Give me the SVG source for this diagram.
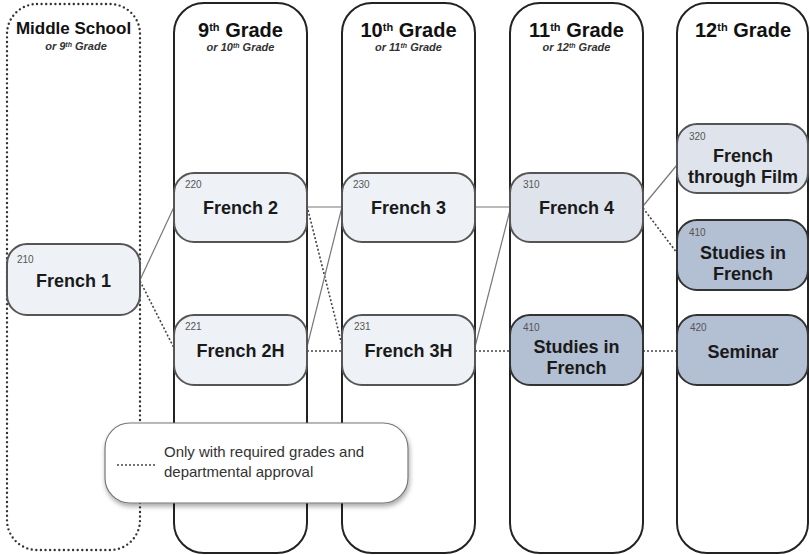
<svg xmlns="http://www.w3.org/2000/svg" width="810" height="555" viewBox="0 0 810 555">
<defs>
<filter id="sh" x="-10%" y="-20%" width="125%" height="150%">
<feGaussianBlur in="SourceAlpha" stdDeviation="2.5"/>
<feOffset dx="1" dy="3" result="b"/>
<feComponentTransfer><feFuncA type="linear" slope="0.35"/></feComponentTransfer>
<feMerge><feMergeNode/><feMergeNode in="SourceGraphic"/></feMerge>
</filter>
</defs>
<style>
text{font-family:"Liberation Sans",Arial,Helvetica,sans-serif;fill:#111}
.col{fill:#fff;stroke:#222;stroke-width:2}
.ms{fill:#fff;stroke:#333;stroke-width:2.4;stroke-dasharray:0 4.6;stroke-linecap:round}
.h{font-size:20px;font-weight:bold;text-anchor:middle}
.hm{font-size:17px;font-weight:bold;text-anchor:middle}
.sup{font-size:11px}
.sub{font-size:11px;font-weight:bold;font-style:italic;text-anchor:middle;fill:#333}
.subsup{font-size:7px}
.n1{fill:#eef2f7;stroke:#555;stroke-width:2}
.n2{fill:#dfe4ec;stroke:#555;stroke-width:2}
.n3{fill:#b3bfd3;stroke:#333;stroke-width:2}
.num{font-size:10px;fill:#555}
.lbl{font-size:18px;font-weight:bold;text-anchor:middle;fill:#1a1a1a}
.solid{stroke:#777;stroke-width:1.2;fill:none}
.dot{stroke:#444;stroke-width:1.6;stroke-dasharray:2 2;fill:none}
.leg{font-size:15px;fill:#333}
</style>

<g id="col-middle-school">
<rect class="ms" x="7" y="4" width="133" height="546" rx="30"/>
<text class="hm" x="73.5" y="34">Middle School</text>
<text class="sub" x="76" y="50">or 9<tspan class="subsup" dy="-3">th</tspan><tspan dy="3"> Grade</tspan></text>
</g>
<g id="col-9th">
<rect class="col" x="174" y="3" width="133" height="550" rx="30"/>
<text class="h" x="240.5" y="37">9<tspan class="sup" dy="-6">th</tspan><tspan dy="6"> Grade</tspan></text>
<text class="sub" x="240.5" y="51">or 10<tspan class="subsup" dy="-3">th</tspan><tspan dy="3"> Grade</tspan></text>
</g>
<g id="col-10th">
<rect class="col" x="342" y="3" width="133" height="550" rx="30"/>
<text class="h" x="408.5" y="37">10<tspan class="sup" dy="-6">th</tspan><tspan dy="6"> Grade</tspan></text>
<text class="sub" x="408.5" y="51">or 11<tspan class="subsup" dy="-3">th</tspan><tspan dy="3"> Grade</tspan></text>
</g>
<g id="col-11th">
<rect class="col" x="510" y="3" width="133" height="550" rx="30"/>
<text class="h" x="576.5" y="37">11<tspan class="sup" dy="-6">th</tspan><tspan dy="6"> Grade</tspan></text>
<text class="sub" x="576.5" y="51">or 12<tspan class="subsup" dy="-3">th</tspan><tspan dy="3"> Grade</tspan></text>
</g>
<g id="col-12th">
<rect class="col" x="677" y="3" width="131" height="550" rx="30"/>
<text class="h" x="743" y="37">12<tspan class="sup" dy="-6">th</tspan><tspan dy="6"> Grade</tspan></text>
</g>

<g id="connectors">
<line class="solid" x1="140" y1="280" x2="174" y2="207"/>
<line class="dot" x1="140" y1="281" x2="174" y2="348"/>
<line class="solid" x1="307" y1="207" x2="342" y2="207"/>
<line class="dot" x1="308" y1="210" x2="342" y2="345"/>
<line class="solid" x1="307" y1="347" x2="342" y2="207"/>
<line class="dot" x1="307" y1="351" x2="342" y2="351"/>
<line class="solid" x1="475" y1="207" x2="510" y2="207"/>
<line class="solid" x1="475" y1="347" x2="510" y2="210"/>
<line class="dot" x1="475" y1="351" x2="510" y2="351"/>
<line class="solid" x1="643" y1="206" x2="677" y2="165"/>
<line class="dot" x1="643" y1="208" x2="677" y2="253"/>
<line class="dot" x1="643" y1="351" x2="677" y2="351"/>
</g>

<g id="n210">
<rect class="n1" x="7" y="244" width="133" height="71" rx="20"/>
<text class="num" x="17" y="263">210</text>
<text class="lbl" x="73.5" y="287">French 1</text>
</g>
<g id="n220">
<rect class="n1" x="174" y="173" width="133" height="69" rx="20"/>
<text class="num" x="185" y="188">220</text>
<text class="lbl" x="240.5" y="214">French 2</text>
</g>
<g id="n221">
<rect class="n1" x="174" y="315" width="133" height="70" rx="20"/>
<text class="num" x="185" y="330">221</text>
<text class="lbl" x="240.5" y="357">French 2H</text>
</g>
<g id="n230">
<rect class="n1" x="342" y="173" width="133" height="69" rx="20"/>
<text class="num" x="353" y="188">230</text>
<text class="lbl" x="408.5" y="214">French 3</text>
</g>
<g id="n231">
<rect class="n1" x="342" y="315" width="133" height="70" rx="20"/>
<text class="num" x="354" y="330">231</text>
<text class="lbl" x="408.5" y="357">French 3H</text>
</g>
<g id="n310">
<rect class="n2" x="510" y="173" width="133" height="69" rx="20"/>
<text class="num" x="523" y="188">310</text>
<text class="lbl" x="576.5" y="214">French 4</text>
</g>
<g id="n410-11">
<rect class="n3" x="510" y="315" width="133" height="70" rx="20"/>
<text class="num" x="523" y="331">410</text>
<text class="lbl" x="576.5" y="353">Studies in</text>
<text class="lbl" x="576.5" y="374">French</text>
</g>
<g id="n320">
<rect class="n2" x="677" y="124" width="131" height="69" rx="20"/>
<text class="num" x="689" y="140">320</text>
<text class="lbl" x="743" y="162">French</text>
<text class="lbl" x="743" y="183">through Film</text>
</g>
<g id="n410-12">
<rect class="n3" x="677" y="220" width="131" height="70" rx="20"/>
<text class="num" x="689" y="236">410</text>
<text class="lbl" x="743" y="259">Studies in</text>
<text class="lbl" x="743" y="280">French</text>
</g>
<g id="n420">
<rect class="n3" x="677" y="315" width="131" height="70" rx="20"/>
<text class="num" x="690" y="331">420</text>
<text class="lbl" x="743" y="358">Seminar</text>
</g>

<g id="legend">
<rect x="105" y="423" width="303" height="80" rx="25" fill="#fff" stroke="#777" stroke-width="1.2" filter="url(#sh)"/>
<line class="dot" x1="117" y1="465" x2="157" y2="465"/>
<text class="leg" x="164" y="457">Only with required grades and</text>
<text class="leg" x="164" y="477">departmental approval</text>
</g>
</svg>
